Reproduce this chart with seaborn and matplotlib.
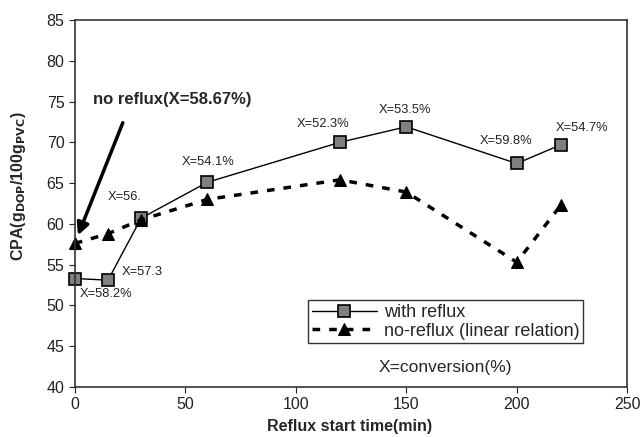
import seaborn as sns
import matplotlib.pyplot as plt
import pandas as pd

# reflux start time (min)
time = [0, 15, 30, 60, 120, 150, 200, 220]
cpa_reflux = [53.3, 53.1, 60.7, 65.1, 70.0, 71.9, 67.4, 69.7]
cpa_noreflux = [57.6, 58.8, 60.5, 63.0, 65.4, 63.9, 55.3, 62.3]

# conversion labels next to the reflux points
conv_labels = ['X=58.2%', 'X=57.3', 'X=56.', 'X=54.1%', 'X=52.3%', 'X=53.5%', 'X=59.8%', 'X=54.7%']
label_pos = [(2, 51.4), (21, 54.1), (15, 63.3), (48.3, 67.6), (100.5, 72.3),
             (137.7, 73.9), (183.4, 70.1), (217.8, 71.8)]

df = pd.DataFrame({'time': time, 'reflux': cpa_reflux, 'noreflux': cpa_noreflux})

sns.set_style('ticks')
plt.rcParams['font.family'] = ['Liberation Sans', 'DejaVu Sans']

fig = plt.figure(figsize=(6.4, 4.37), dpi=100)
ax = fig.add_axes([0.117, 0.1144, 0.863, 0.84])

sns.lineplot(data=df, x='time', y='reflux', ax=ax, color='black', lw=1,
             marker='s', markersize=8, markerfacecolor='#808080',
             markeredgecolor='black', markeredgewidth=1.2, label='with reflux')
sns.lineplot(data=df, x='time', y='noreflux', ax=ax, color='black', lw=2.5,
             marker='^', markersize=9, markerfacecolor='black',
             markeredgecolor='black', label='no-reflux (linear relation)')
ax.lines[1].set_dashes((2.2, 2.6))
for ln in ax.lines:
    ln.set_clip_on(False)

for txt, (x, y) in zip(conv_labels, label_pos):
    ax.text(x, y, txt, fontsize=9.3, ha='left', va='center', color='#222222')

ax.annotate('', xy=(1.4, 58.6), xytext=(21.7, 72.4),
            arrowprops=dict(arrowstyle='-|>', color='black', lw=2.5,
                            mutation_scale=18, shrinkA=0, shrinkB=0))
ax.text(8.2, 75.3, 'no reflux(X=58.67%)', fontsize=12, fontweight='bold',
        ha='left', va='center')
ax.text(167.6, 42.4, 'X=conversion(%)', fontsize=12.5, ha='center', va='center')

ax.set_xlim(0, 250)
ax.set_ylim(40, 85)
ax.set_xticks(range(0, 251, 50))
ax.set_yticks(range(40, 86, 5))
ax.tick_params(labelsize=11.5, direction='out', length=4, colors='#222222')
for s in ax.spines.values():
    s.set_color('#333333')
    s.set_linewidth(1.2)

ax.set_xlabel('Reflux start time(min)', fontsize=11.5, fontweight='bold')
ax.set_ylabel(r'CPA(g$_{\mathbf{DOP}}$/100g$_{\mathbf{PVC}}$)', fontsize=11.5,
              fontweight='bold')
ax.xaxis.set_label_coords(0.498, -0.088)
ax.yaxis.set_label_coords(-0.085, 0.548)

leg = ax.legend(loc='upper left', bbox_to_anchor=(0.422, 0.236), fontsize=13,
                frameon=True, fancybox=False, edgecolor='black', borderaxespad=0,
                handlelength=3.6, borderpad=0.2, labelspacing=0.1, handletextpad=0.4)
leg.get_frame().set_linewidth(1)

fig.savefig('out.png', dpi=100)
